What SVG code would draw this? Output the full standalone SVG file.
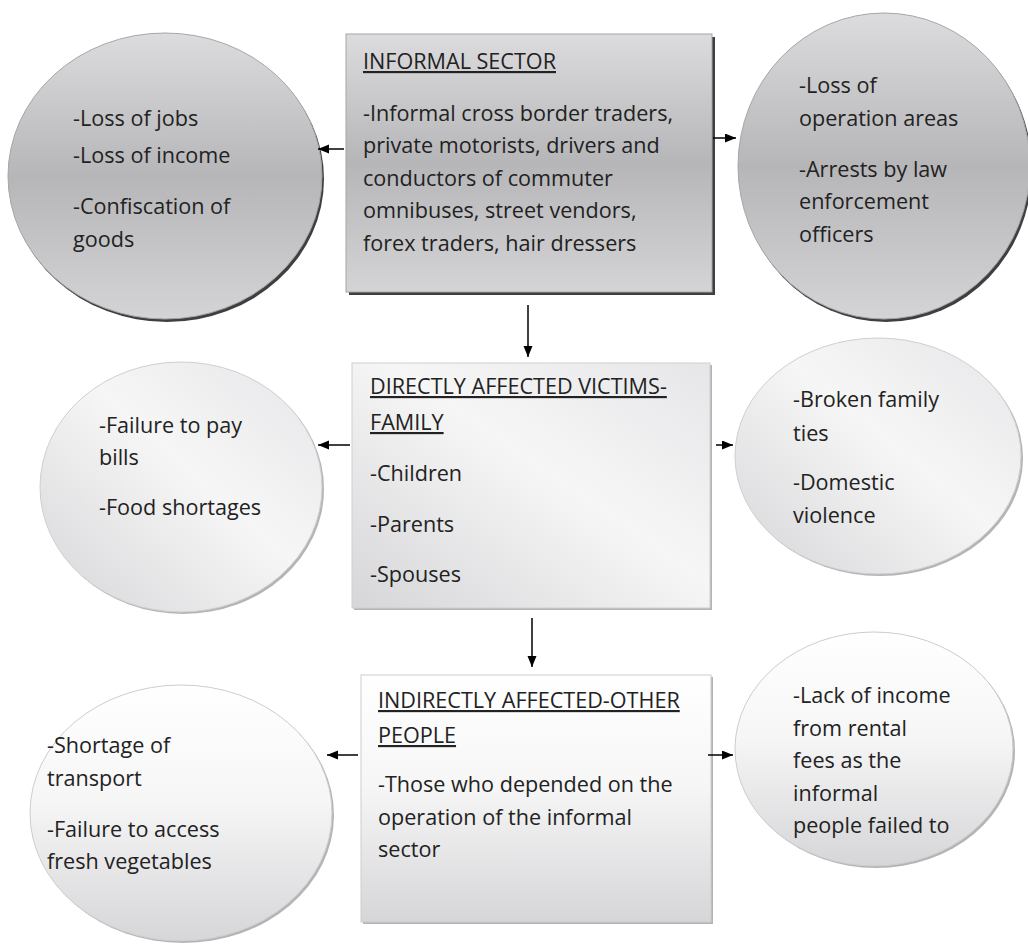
<svg xmlns="http://www.w3.org/2000/svg" width="1028" height="944" viewBox="0 0 1028 944">
<defs>
<linearGradient id="gTop" x1="0" y1="0" x2="0" y2="1">
<stop offset="0" stop-color="#dcdcde"/><stop offset="0.5" stop-color="#b6b6b9"/><stop offset="1" stop-color="#d4d4d6"/>
</linearGradient>
<linearGradient id="gMid" x1="0" y1="1" x2="1" y2="0">
<stop offset="0" stop-color="#d6d6d8"/><stop offset="0.55" stop-color="#f6f6f7"/><stop offset="1" stop-color="#e6e6e8"/>
</linearGradient>
<linearGradient id="gBot" x1="0" y1="0" x2="0" y2="1">
<stop offset="0" stop-color="#ffffff"/><stop offset="0.45" stop-color="#f6f6f7"/><stop offset="1" stop-color="#d6d6d8"/>
</linearGradient>
<marker id="ah" markerUnits="userSpaceOnUse" markerWidth="12" markerHeight="10" refX="11" refY="4.5" orient="auto">
<path d="M0,0 L11,4.5 L0,9 z" fill="#000"/>
</marker>
<style>
.t{font-family:"Open Sans","Liberation Sans",sans-serif;font-size:21.6px;fill:#222;}
.u{text-decoration:underline;}
.top{fill:url(#gTop);stroke:#a6a6a8;stroke-width:1;}
.mid{fill:url(#gMid);stroke:#cfcfd1;stroke-width:1;}
.bot{fill:url(#gBot);stroke:#cdcdcf;stroke-width:1;}
.shD{fill:#3f3f42;}
.shL{fill:#b4b4b6;}
.c{stroke:#000;stroke-width:1.5;fill:none;marker-end:url(#ah);}
</style>
</defs>

<g id="top-left-circle">
<ellipse class="shD" cx="167" cy="179" rx="157" ry="143"/>
<ellipse class="top" cx="165" cy="176" rx="157" ry="143"/>
<text class="t" x="73" y="126">-Loss of jobs</text>
<text class="t" x="73" y="163">-Loss of income</text>
<text class="t" x="73" y="214">-Confiscation of</text>
<text class="t" x="73" y="247">goods</text>
</g>

<g id="informal-sector">
<rect class="shD" x="349" y="37" width="366" height="258"/>
<rect class="top" x="346" y="34" width="366" height="258"/>
<text class="t u" x="363" y="69">INFORMAL SECTOR</text>
<text class="t" x="363" y="121">-Informal cross border traders,</text>
<text class="t" x="363" y="153">private motorists, drivers and</text>
<text class="t" x="363" y="186">conductors of commuter</text>
<text class="t" x="363" y="218">omnibuses, street vendors,</text>
<text class="t" x="363" y="251">forex traders, hair dressers</text>
</g>

<g id="top-right-circle">
<ellipse class="shD" cx="886" cy="169" rx="146" ry="153"/>
<ellipse class="top" cx="884" cy="166" rx="146" ry="153"/>
<text class="t" x="799" y="93">-Loss of</text>
<text class="t" x="799" y="126">operation areas</text>
<text class="t" x="799" y="177">-Arrests by law</text>
<text class="t" x="799" y="209">enforcement</text>
<text class="t" x="799" y="242">officers</text>
</g>

<g id="mid-left-circle">
<ellipse class="shL" cx="183" cy="489" rx="141" ry="125"/>
<ellipse class="mid" cx="181" cy="487" rx="141" ry="125"/>
<text class="t" x="99" y="433">-Failure to pay</text>
<text class="t" x="99" y="465">bills</text>
<text class="t" x="99" y="515">-Food shortages</text>
</g>

<g id="directly-affected">
<rect class="shL" x="354" y="365" width="358" height="245"/>
<rect class="mid" x="352" y="363" width="358" height="245"/>
<text class="t u" x="370" y="394">DIRECTLY AFFECTED VICTIMS-</text>
<text class="t u" x="370" y="430">FAMILY</text>
<text class="t" x="370" y="481">-Children</text>
<text class="t" x="370" y="532">-Parents</text>
<text class="t" x="370" y="582">-Spouses</text>
</g>

<g id="mid-right-circle">
<ellipse class="shL" cx="880" cy="458" rx="143" ry="118"/>
<ellipse class="mid" cx="878" cy="456" rx="143" ry="118"/>
<text class="t" x="793" y="407">-Broken family</text>
<text class="t" x="793" y="441">ties</text>
<text class="t" x="793" y="490">-Domestic</text>
<text class="t" x="793" y="523">violence</text>
</g>

<g id="bottom-left-circle">
<ellipse class="shL" cx="183" cy="815" rx="151" ry="128"/>
<ellipse class="bot" cx="181" cy="813" rx="151" ry="128"/>
<text class="t" x="47" y="753">-Shortage of</text>
<text class="t" x="47" y="786">transport</text>
<text class="t" x="47" y="837">-Failure to access</text>
<text class="t" x="47" y="869">fresh vegetables</text>
</g>

<g id="indirectly-affected">
<rect class="shL" x="363" y="677" width="350" height="247"/>
<rect class="bot" x="361" y="675" width="350" height="247"/>
<text class="t u" x="378" y="708">INDIRECTLY AFFECTED-OTHER</text>
<text class="t u" x="378" y="743">PEOPLE</text>
<text class="t" x="378" y="792">-Those who depended on the</text>
<text class="t" x="378" y="825">operation of the informal</text>
<text class="t" x="378" y="857">sector</text>
</g>

<g id="bottom-right-circle">
<ellipse class="shL" cx="876" cy="751" rx="139" ry="117"/>
<ellipse class="bot" cx="874" cy="749" rx="139" ry="117"/>
<text class="t" x="793" y="703">-Lack of income</text>
<text class="t" x="793" y="736">from rental</text>
<text class="t" x="793" y="768">fees as the</text>
<text class="t" x="793" y="801">informal</text>
<text class="t" x="793" y="833">people failed to</text>
</g>

<g id="connectors">
<line class="c" x1="344" y1="149" x2="318" y2="149"/>
<line class="c" x1="713" y1="138" x2="736" y2="138"/>
<line class="c" x1="528" y1="305" x2="528" y2="357"/>
<line class="c" x1="350" y1="445" x2="318" y2="445"/>
<line class="c" x1="716" y1="445" x2="733" y2="445"/>
<line class="c" x1="532" y1="618" x2="532" y2="667"/>
<line class="c" x1="358" y1="755" x2="327" y2="755"/>
<line class="c" x1="708" y1="755" x2="733" y2="755"/>
</g>
</svg>
